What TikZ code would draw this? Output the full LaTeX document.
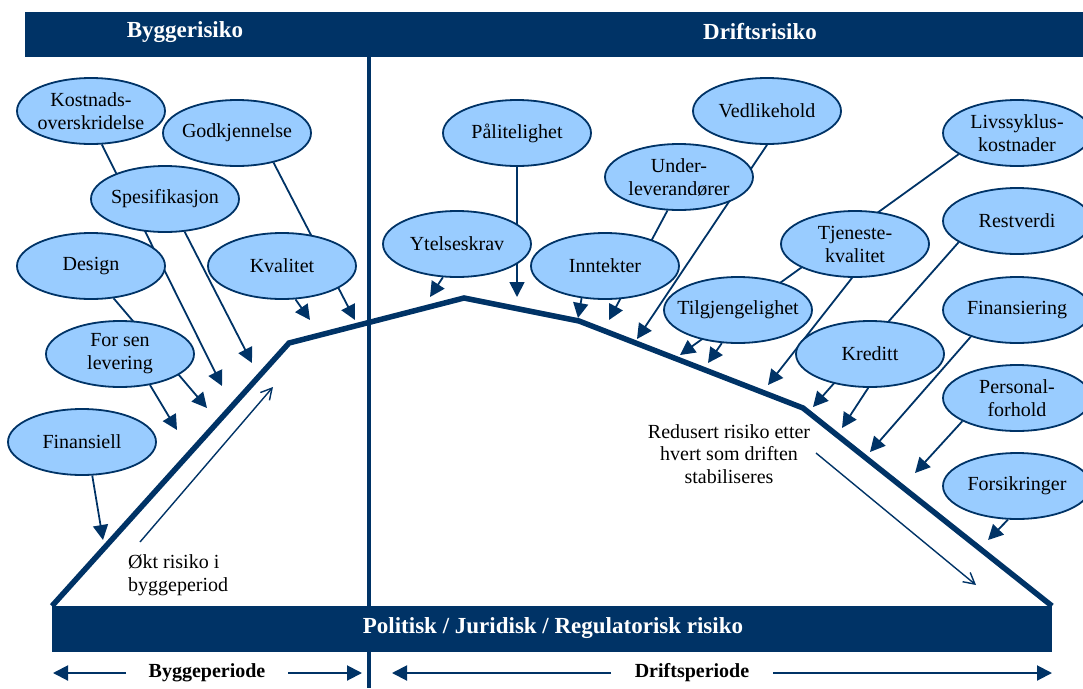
\documentclass[tikz,border=0pt]{standalone}
\usepackage{fontspec}
\setmainfont{Liberation Serif}
\usetikzlibrary{shapes.geometric,arrows.meta}
\definecolor{navy}{HTML}{003366}
\definecolor{riskfill}{HTML}{99CCFF}
\pgfdeclarelayer{back}
\pgfsetlayers{back,main}

\begin{document}
\begin{tikzpicture}[x=1pt,y=-1pt,
  risk/.style={ellipse, draw=navy, line width=1.8pt, fill=riskfill,
    minimum width=148pt, minimum height=66pt, inner xsep=-14pt, inner ysep=-2pt,
    align=center, font=\fontsize{20}{23}\selectfont},
  feed/.style={draw=navy, line width=1.8pt, -{Triangle[length=15pt,width=15pt]}},
  spine/.style={draw=navy, line width=5.5pt, line join=miter},
  trend/.style={draw=navy, line width=1.4pt, -{Straight Barb[length=11pt,width=12pt]}},
  barlabel/.style={text=white, inner sep=0pt, font=\bfseries\fontsize{23}{27}\selectfont},
  period/.style={inner sep=0pt, font=\bfseries\fontsize{20}{24}\selectfont},
  span/.style={draw=navy, line width=2pt, -{Triangle[length=15pt,width=15pt]}},
  note/.style={inner sep=0pt, font=\fontsize{20}{22.5}\selectfont}
]
\useasboundingbox (0,0) rectangle (1083,688);

% divider between the two phases
\coordinate (divtop) at (369,57);
\coordinate (divbot) at (369,688);
\draw[navy, line width=4pt] (divtop) -- (divbot);

% header band
\fill[navy] (25,12) rectangle (1083,57);
\node[barlabel] (hbygg) at (185,32) {Byggerisiko};
\node[barlabel] (hdrift) at (760,32) {Driftsrisiko};

% base band
\fill[navy] (52,606) rectangle (1052,652);
\node[barlabel] (hpol) at (553,628) {Politisk / Juridisk / Regulatorisk risiko};

% risk profile
\coordinate (s0) at (52,606);
\coordinate (s1) at (289,343);
\coordinate (s2) at (464,298);
\coordinate (s3) at (579,321);
\coordinate (s4) at (803,408);
\coordinate (s5) at (1052,606);
\draw[spine] (s0) -- (s1) -- (s2) -- (s3) -- (s4) -- (s5);

% trend arrows and notes
\coordinate (ua) at (140,542);
\coordinate (ub) at (273,387);
\draw[trend] (ua) -- (ub);
\node[note, align=left, anchor=west] (okt) at (128,575) {Økt risiko i\\byggeperiod};
\coordinate (da) at (816,453);
\coordinate (db) at (976,585);
\draw[trend] (da) -- (db);
\node[note, align=center] (red) at (729,454) {Redusert risiko etter\\hvert som driften\\stabiliseres};

% period labels
\node[period] (pbygg) at (207,673) {Byggeperiode};
\node[period] (pdrift) at (692,673) {Driftsperiode};
\coordinate (pb0) at (53,673);
\coordinate (pb1) at (126,673);
\coordinate (pb2) at (288,673);
\coordinate (pb3) at (362,673);
\coordinate (pd0) at (392,673);
\coordinate (pd1) at (611,673);
\coordinate (pd2) at (773,673);
\coordinate (pd3) at (1052,673);
\draw[span] (pb1) -- (pb0);
\draw[span] (pb2) -- (pb3);
\draw[span] (pd1) -- (pd0);
\draw[span] (pd2) -- (pd3);

% construction risks
\node[risk] (kost) at (91,111) {Kostnads-\\overskridelse};
\node[risk] (godk) at (237,133) {Godkjennelse};
\node[risk] (spes) at (165,199) {Spesifikasjon};
\node[risk] (design) at (91,266) {Design};
\node[risk] (kval) at (282,266) {Kvalitet};
\node[risk] (sen) at (120,354) {For sen\\levering};
\node[risk] (fin) at (82,442) {Finansiell};

% operating risks
\node[risk] (paal) at (517,133) {Pålitelighet};
\node[risk] (ytel) at (457,244) {Ytelseskrav};
\node[risk] (vedl) at (767,111) {Vedlikehold};
\node[risk] (under) at (679,177) {Under-\\leverandører};
\node[risk] (inn) at (605,266) {Inntekter};
\node[risk] (tilg) at (738,310) {Tilgjengelighet};
\node[risk] (tjen) at (855,244) {Tjeneste-\\kvalitet};
\node[risk] (livs) at (1017,133) {Livssyklus-\\kostnader};
\node[risk] (rest) at (1017,221) {Restverdi};
\node[risk] (finans) at (1017,310) {Finansiering};
\node[risk] (kred) at (870,354) {Kreditt};
\node[risk] (pers) at (1017,398) {Personal-\\forhold};
\node[risk] (fors) at (1017,486) {Forsikringer};

% arrow targets along the profile
\coordinate (tKost) at (222,386);
\coordinate (tSpes) at (252,363);
\coordinate (tDesign) at (207,408);
\coordinate (tSen) at (177,430);
\coordinate (tFin) at (103,540);
\coordinate (tGodk) at (355,320);
\coordinate (tKval) at (310,320);
\coordinate (tYtel) at (430,297);
\coordinate (tPaal) at (517,297);
\coordinate (tUnder) at (609,320);
\coordinate (tInn) at (578,318);
\coordinate (tVedl) at (637,339);
\coordinate (tLivs) at (680,355);
\coordinate (tTilg) at (708,363);
\coordinate (tTjen) at (768,385);
\coordinate (tRest) at (813,407);
\coordinate (tKred) at (842,428);
\coordinate (tFinans) at (870,452);
\coordinate (tPers) at (915,473);
\coordinate (tFors) at (988,540);

\begin{pgfonlayer}{back}
\draw[feed] (kost.-72) -- (tKost);
\draw[feed] (spes.-59) -- (tSpes);
\draw[feed] (design.-55) -- (tDesign);
\draw[feed] (sen.-46) -- (tSen);
\draw[feed] (fin.-73) -- (tFin);
\draw[feed] (godk.-39) -- (tGodk);
\draw[feed] (kval.-68) -- (tKval);
\draw[feed] (ytel.-113) -- (tYtel);
\draw[feed] (paal.-90) -- (tPaal);
\draw[feed] (under.-109) -- (tUnder);
\draw[feed] (inn.-126) -- (tInn);
\draw[feed] (vedl.-90) -- (tVedl);
\draw[feed] (livs.-160) -- (tLivs);
\draw[feed] (tilg.-116) -- (tTilg);
\draw[feed] (tjen.-95) -- (tTjen);
\draw[feed] (rest.-160) -- (tRest);
\draw[feed] (kred.-93) -- (tKred);
\draw[feed] (finans.-150) -- (tFinans);
\draw[feed] (pers.-157) -- (tPers);
\draw[feed] (fors.-105) -- (tFors);
\end{pgfonlayer}
\end{tikzpicture}
\end{document}
